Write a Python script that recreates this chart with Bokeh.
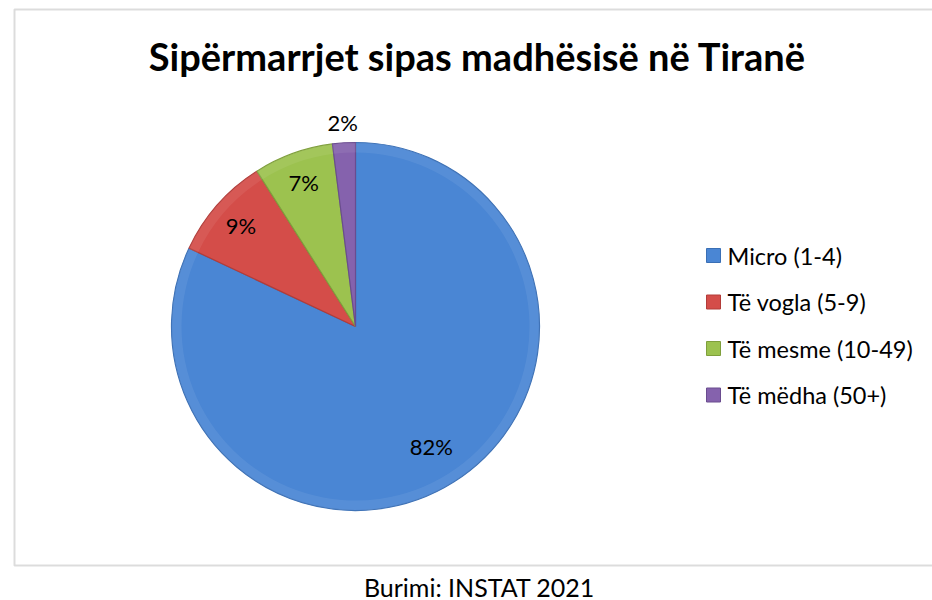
import math
from bokeh.plotting import figure
from bokeh.models import Range1d, Label, BoxAnnotation, ColumnDataSource
from bokeh.core.properties import value
from bokeh.embed import file_html
from bokeh.resources import INLINE

# ---- data ----
categories = ["Micro (1-4)", "Të vogla (5-9)", "Të mesme (10-49)", "Të mëdha  (50+)"]
shares = [82, 9, 7, 2]
pct_labels = ["82%", "9%", "7%", "2%"]
title_text = "Sipërmarrjet sipas madhësisë në Tiranë"
source_text = "Burimi: INSTAT 2021"

# ---- styles ----
colors = ["#4a86d4", "#d44d49", "#9cc24f", "#8562ad"]
edge_colors = ["#3a6fb5", "#b23c39", "#7f9f3c", "#6a4c8f"]
label_radius_factor = [0.77, 0.83, 0.83, 1.11]
FONT = "Lato"

W, H = 932, 600
p = figure(width=W, height=H, output_backend="svg", toolbar_location=None,
           x_range=Range1d(0, W), y_range=Range1d(0, H), min_border=0)
p.axis.visible = False
p.grid.visible = False
p.outline_line_color = None
p.background_fill_color = "white"
p.border_fill_color = "white"

def X(px):
    return px
def Y(py):
    return H - py

# chart area border
p.add_layout(BoxAnnotation(left=X(14), right=X(960), top=Y(9), bottom=Y(565),
                           fill_color=None, line_color="#8c8c8c", line_width=2))

# pie
cx, cy, r = X(355), Y(326), 184
total = float(sum(shares))
starts, ends, mids = [], [], []
acc = 0.0
for s in shares:
    a0 = math.pi / 2 - 2 * math.pi * acc / total
    acc += s
    a1 = math.pi / 2 - 2 * math.pi * acc / total
    starts.append(a0)
    ends.append(a1)
    mids.append((a0 + a1) / 2)

src = ColumnDataSource(dict(start=starts, end=ends, color=colors, edge=edge_colors,
                            cat=categories))
p.wedge(x=cx, y=cy, radius=r, radius_units="screen", start_angle="start",
        end_angle="end", direction="clock", fill_color="color", line_color="edge",
        line_width=1.2, source=src)
# subtle rim highlight for bevel look
p.annular_wedge(x=cx, y=cy, inner_radius=r - 10, outer_radius=r, inner_radius_units="screen",
                outer_radius_units="screen", start_angle="start", end_angle="end",
                direction="clock", fill_color="white", fill_alpha=0.07, line_color=None,
                source=src)

# percentage labels
lx = [cx + f * r * math.cos(m) for f, m in zip(label_radius_factor, mids)]
ly = [cy + f * r * math.sin(m) for f, m in zip(label_radius_factor, mids)]
p.text(x=lx, y=ly, text=pct_labels, text_align="center", text_baseline="middle",
       text_font=value(FONT), text_font_size="22px", text_color="#000000")

# legend (manual)
leg_x, leg_y0, leg_dy = X(713), Y(255), 46.5
for i, (cat, col, ec) in enumerate(zip(categories, colors, edge_colors)):
    yy = leg_y0 - i * leg_dy
    p.scatter(x=[leg_x], y=[yy], marker="square", size=14, fill_color=col,
              line_color=ec, line_width=1)
    p.text(x=[leg_x + 14], y=[yy], text=[cat], text_align="left", text_baseline="middle",
           text_font=value(FONT), text_font_size="23.5px", text_color="#000000")

# title
p.add_layout(Label(x=X(477), y=Y(55), text=title_text, text_align="center",
                   text_baseline="middle", text_font=FONT, text_font_style="bold",
                   text_font_size="38px", text_color="#000000"))
# source
p.add_layout(Label(x=X(479), y=Y(586), text=source_text, text_align="center",
                   text_baseline="middle", text_font=FONT,
                   text_font_size="25px", text_color="#000000"))

open("out.html", "w").write(file_html(p, INLINE))
